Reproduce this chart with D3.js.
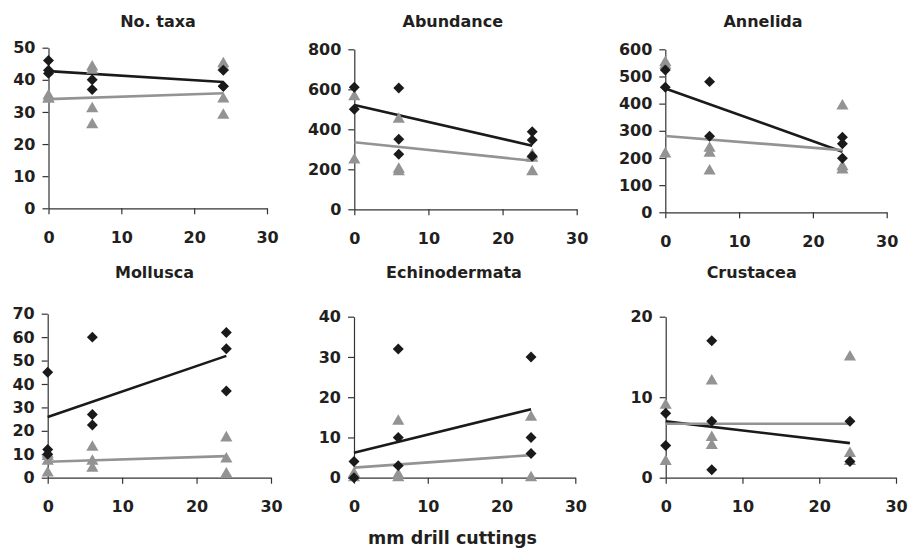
<!DOCTYPE html>
<html>
<head>
<meta charset="utf-8">
<script src="https://cdn.jsdelivr.net/npm/d3@7"></script>
<style>
  body { margin: 0; background: #fff; }
  svg { display: block; }
  text { font-family: "DejaVu Sans", sans-serif; font-weight: bold; fill: #231f20; }
</style>
</head>
<body>
<div id="chart"></div>
<script>
// ---------- Data ----------
const titles = ["No. taxa", "Abundance", "Annelida", "Mollusca", "Echinodermata", "Crustacea"];
const yMax   = [50, 800, 600, 70, 40, 20];
const yStep  = [10, 200, 100, 10, 10, 10];
const xTicks = [0, 10, 20, 30];
const fitX   = [0, 24];

// [mm drill cuttings, value]
const taxaBlack = [[0,46],[0,43],[0,42],[6,40],[6,37],[24,43],[24,38],[24,38]];
const taxaGrey  = [[0,35],[0,34],[0,34],[6,44],[6,43],[6,31],[6,26],[24,45],[24,44],[24,34],[24,29]];
const abunBlack = [[0,610],[0,500],[6,607],[6,350],[6,275],[24,388],[24,347],[24,265]];
const abunGrey  = [[0,563],[0,247],[6,450],[6,200],[6,188],[24,272],[24,255],[24,188]];
const anneBlack = [[0,524],[0,460],[6,481],[6,280],[24,276],[24,252],[24,199]];
const anneGrey  = [[0,551],[0,541],[0,215],[6,236],[6,217],[6,152],[24,391],[24,168],[24,156]];
const mollBlack = [[0,45],[0,12],[0,10],[6,60],[6,27],[6,22.5],[24,62],[24,55],[24,37]];
const mollGrey  = [[0,10],[0,9],[0,7],[0,2],[6,13],[6,7],[6,4],[24,17],[24,8],[24,1.6]];
const echiBlack = [[0,4],[0,0],[6,32],[6,10],[6,3],[24,30],[24,10],[24,6]];
const echiGrey  = [[0,1],[0,0],[6,14],[6,0.7],[6,0],[24,15],[24,0]];
const crusBlack = [[0,8],[0,4],[6,17],[6,7],[6,1],[24,7],[24,2]];
const crusGrey  = [[0,9],[0,2],[6,12],[6,5],[6,4],[24,15],[24,3],[24,2]];

// fitted line values at x = 0 and x = 24
const blackFit = [[42.7,39.3],[522,318],[456,223],[25.9,52],[6.2,17],[7,4.3]];
const greyFit  = [[34,35.8],[335,243],[281,229],[6.8,9.2],[2.5,5.6],[6.7,6.7]];

const blackSets = [taxaBlack, abunBlack, anneBlack, mollBlack, echiBlack, crusBlack];
const greySets  = [taxaGrey, abunGrey, anneGrey, mollGrey, echiGrey, crusGrey];

// ---------- Layout ----------
const width = 911, height = 549;
const frames = [
  { l: 48.5,  r: 267,   t: 47.7,  b: 208.3, tx: 158,   ty: 27 },
  { l: 354.3, r: 576.7, t: 49.3,  b: 209.3, tx: 452.8, ty: 27 },
  { l: 665.3, r: 886.7, t: 49.3,  b: 212.3, tx: 763,   ty: 27 },
  { l: 47.7,  r: 271,   t: 313.7, b: 477.7, tx: 154.5, ty: 278 },
  { l: 354,   r: 575.3, t: 316.7, b: 477.7, tx: 454,   ty: 278 },
  { l: 665.7, r: 896,   t: 316.7, b: 477.7, tx: 751.7, ty: 278 }
];

const black = "#1a1a1a";
const grey  = "#939393";
const axisColor = "#333";

const svg = d3.select("#chart")
  .append("svg")
  .attr("width", width)
  .attr("height", height);

frames.forEach((f, i) => {
  const x = d3.scaleLinear().domain([0, 30]).range([f.l, f.r]);
  const y = d3.scaleLinear().domain([0, yMax[i]]).range([f.b, f.t]);
  const g = svg.append("g");

  // axes
  const yAxis = g.append("g")
    .attr("transform", `translate(${f.l},0)`)
    .call(d3.axisLeft(y)
      .tickValues(d3.range(0, yMax[i] + yStep[i] / 2, yStep[i]))
      .tickSize(6).tickSizeOuter(0).tickPadding(7));

  const xAxis = g.append("g")
    .attr("transform", `translate(0,${f.b})`)
    .call(d3.axisBottom(x)
      .tickValues(xTicks)
      .tickSize(6).tickSizeOuter(0).tickPadding(17));

  [yAxis, xAxis].forEach(a => {
    a.select(".domain").attr("stroke", axisColor).attr("stroke-width", 1.2);
    a.selectAll(".tick line").attr("stroke", axisColor).attr("stroke-width", 1.2);
    a.selectAll(".tick text")
      .attr("fill", "#231f20")
      .style("font-size", "16px")
      .style("font-family", "'DejaVu Sans', sans-serif")
      .style("font-weight", "bold");
  });

  // fitted lines
  const line = d3.line().x((d, k) => x(fitX[k])).y(d => y(d));
  g.append("path")
    .datum(blackFit[i])
    .attr("d", line)
    .attr("fill", "none")
    .attr("stroke", black)
    .attr("stroke-width", 2.6);
  g.append("path")
    .datum(greyFit[i])
    .attr("d", line)
    .attr("fill", "none")
    .attr("stroke", grey)
    .attr("stroke-width", 2.6);

  // grey triangles
  g.append("g").selectAll("path")
    .data(greySets[i])
    .join("path")
    .attr("d", d3.symbol(d3.symbolTriangle, 64))
    .attr("transform", d => `translate(${x(d[0])},${y(d[1])})`)
    .attr("fill", grey);

  // black diamonds
  g.append("g").selectAll("path")
    .data(blackSets[i])
    .join("path")
    .attr("d", d3.symbol(d3.symbolSquare, 60))
    .attr("transform", d => `translate(${x(d[0])},${y(d[1])}) rotate(45)`)
    .attr("fill", black);

  // title
  g.append("text")
    .attr("x", f.tx)
    .attr("y", f.ty)
    .attr("text-anchor", "middle")
    .style("font-size", "16px")
    .text(titles[i]);
});

svg.append("text")
  .attr("x", 452.5)
  .attr("y", 544)
  .attr("text-anchor", "middle")
  .style("font-size", "17.5px")
  .text("mm drill cuttings");
</script>
</body>
</html>
